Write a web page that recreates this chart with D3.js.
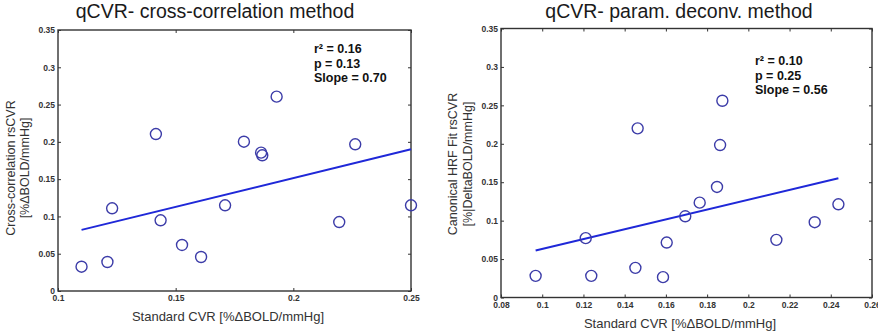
<!DOCTYPE html>
<html><head><meta charset="utf-8">
<script src="https://cdn.jsdelivr.net/npm/d3@7"></script>
<style>body{margin:0;background:#fff}svg{display:block}</style>
</head><body>
<script>
// Left panel: cross-correlation
const leftTitle = "qCVR- cross-correlation method";
const leftX = [0.110,0.121,0.123,0.1436,0.1527,0.1608,0.171,0.2195,0.25,0.1416,0.179,0.1863,0.1868,0.1929,0.2263];
const leftY = [0.0326,0.0389,0.1109,0.0948,0.0617,0.0456,0.1149,0.0925,0.1149,0.2105,0.2002,0.1855,0.182,0.2606,0.1967];
const leftFitX = [0.11,0.25];
const leftFitY = [0.082,0.19];
const leftXTicks = [0.1,0.15,0.2,0.25];
const leftXTickLabels = ["0.1","0.15","0.2","0.25"];
const leftYTicks = [0,0.05,0.1,0.15,0.2,0.25,0.3,0.35];
const leftYTickLabels = ["0","0.05","0.1","0.15","0.2","0.25","0.3","0.35"];
const leftStats = ["r\u00B2 = 0.16","p = 0.13","Slope = 0.70"];
const leftYLabel = ["Cross-correlation rsCVR","[%\u0394BOLD/mmHg]"];
const leftXLabel = "Standard CVR [%\u0394BOLD/mmHg]";

// Right panel: parametric deconvolution
const rightTitle = "qCVR- param. deconv. method";
const rightX = [0.0968,0.1211,0.1238,0.1452,0.1586,0.1604,0.1694,0.1764,0.1848,0.2136,0.2322,0.2437,0.1463,0.1863,0.1874];
const rightY = [0.0282,0.0772,0.0282,0.0386,0.0265,0.0715,0.1057,0.1234,0.1438,0.075,0.098,0.1213,0.2201,0.1984,0.256];
const rightFitX = [0.0968,0.2437];
const rightFitY = [0.0611,0.1551];
const rightXTicks = [0.08,0.1,0.12,0.14,0.16,0.18,0.2,0.22,0.24,0.26];
const rightXTickLabels = ["0.08","0.1","0.12","0.14","0.16","0.18","0.2","0.22","0.24","0.26"];
const rightYTicks = [0,0.05,0.1,0.15,0.2,0.25,0.3,0.35];
const rightYTickLabels = ["0","0.05","0.1","0.15","0.2","0.25","0.3","0.35"];
const rightStats = ["r\u00B2 = 0.10","p = 0.25","Slope = 0.56"];
const rightYLabel = ["Canonical HRF Fit rsCVR","[%|DeltaBOLD/mmHg]"];
const rightXLabel = "Standard CVR [%\u0394BOLD/mmHg]";

const svg = d3.select("body").append("svg").attr("width",878).attr("height",332);
const FONT = "'Liberation Sans', Arial, sans-serif";

function panel(o){
  const g = svg.append("g");
  const x = d3.scaleLinear().domain(o.xDomain).range([o.left,o.right]);
  const y = d3.scaleLinear().domain(o.yDomain).range([o.bottom,o.top]);
  // title
  g.append("text").attr("x",o.titleX).attr("y",o.titleY).attr("text-anchor","middle")
    .attr("font-family",FONT).attr("font-size",19.5).attr("fill","#1a1a1a").text(o.title);
  // box
  g.append("rect").attr("x",o.left).attr("y",o.top).attr("width",o.right-o.left).attr("height",o.bottom-o.top)
    .attr("fill","none").attr("stroke","#333").attr("stroke-width",1.4);
  const xfmt = (d,i)=>o.xTickLabels[i], yfmt=(d,i)=>o.yTickLabels[i];
  g.append("g").attr("transform",`translate(0,${o.bottom})`)
    .call(d3.axisBottom(x).tickValues(o.xTicks).tickFormat(xfmt).tickSize(-3).tickPadding(o.xPad));
  g.append("g").attr("transform",`translate(${o.left},0)`)
    .call(d3.axisLeft(y).tickValues(o.yTicks).tickFormat(yfmt).tickSize(-3).tickPadding(3));
  g.append("g").attr("transform",`translate(0,${o.top})`)
    .call(d3.axisTop(x).tickValues(o.xTicks).tickFormat("").tickSize(-3));
  g.append("g").attr("transform",`translate(${o.right},0)`)
    .call(d3.axisRight(y).tickValues(o.yTicks).tickFormat("").tickSize(-3));
  g.selectAll(".domain").remove();
  g.selectAll(".tick line").attr("stroke","#333").attr("stroke-width",1);
  g.selectAll(".tick text").attr("font-family",FONT).attr("font-size",8.5).attr("font-weight","bold").attr("fill","#333");
  // fit line
  g.append("line").attr("x1",x(o.fitX[0])).attr("y1",y(o.fitY[0])).attr("x2",x(o.fitX[1])).attr("y2",y(o.fitY[1]))
    .attr("stroke","#1f28d8").attr("stroke-width",2);
  // points
  g.selectAll("circle.pt").data(o.xs).join("circle").attr("class","pt")
    .attr("cx",d=>x(d)).attr("cy",(d,i)=>y(o.ys[i])).attr("r",5.5)
    .attr("fill","none").attr("stroke","#3c3ca8").attr("stroke-width",1.4);
  // stats
  o.stats.forEach((s,i)=>{
    g.append("text").attr("x",o.statX).attr("y",o.statY+i*o.statDy).attr("font-family",FONT)
      .attr("font-size",12.5).attr("font-weight","bold").attr("fill","#111").text(s);
  });
  // x label
  g.append("text").attr("x",o.xLabelX).attr("y",o.xLabelY).attr("text-anchor","middle")
    .attr("font-family",FONT).attr("font-size",13).attr("fill","#333").text(o.xLabel);
  // y label
  o.yLabel.forEach((s,i)=>{
    g.append("text").attr("transform",`translate(${o.yLabelX[i]},${o.yLabelY}) rotate(-90)`)
      .attr("text-anchor","middle").attr("font-family",FONT).attr("font-size",12.5).attr("fill","#333").text(s);
  });
}

panel({title:leftTitle,titleX:215,titleY:18,xDomain:[0.1,0.25],yDomain:[0,0.35],
  left:58,right:411,top:30,bottom:291,xTicks:leftXTicks,xTickLabels:leftXTickLabels,
  yTicks:leftYTicks,yTickLabels:leftYTickLabels,xPad:4,
  xs:leftX,ys:leftY,fitX:leftFitX,fitY:leftFitY,stats:leftStats,statX:314,statY:53,statDy:14.5,
  xLabel:leftXLabel,xLabelX:228,xLabelY:321,yLabel:leftYLabel,yLabelX:[15,29],yLabelY:168});

panel({title:rightTitle,titleX:679,titleY:18,xDomain:[0.08,0.26],yDomain:[0,0.35],
  left:501,right:872,top:28.5,bottom:297.5,xTicks:rightXTicks,xTickLabels:rightXTickLabels,
  yTicks:rightYTicks,yTickLabels:rightYTickLabels,xPad:4,
  xs:rightX,ys:rightY,fitX:rightFitX,fitY:rightFitY,stats:rightStats,statX:755,statY:65,statDy:14.5,
  xLabel:rightXLabel,xLabelX:680,xLabelY:328,yLabel:rightYLabel,yLabelX:[457,472],yLabelY:164});
</script>
</body></html>
